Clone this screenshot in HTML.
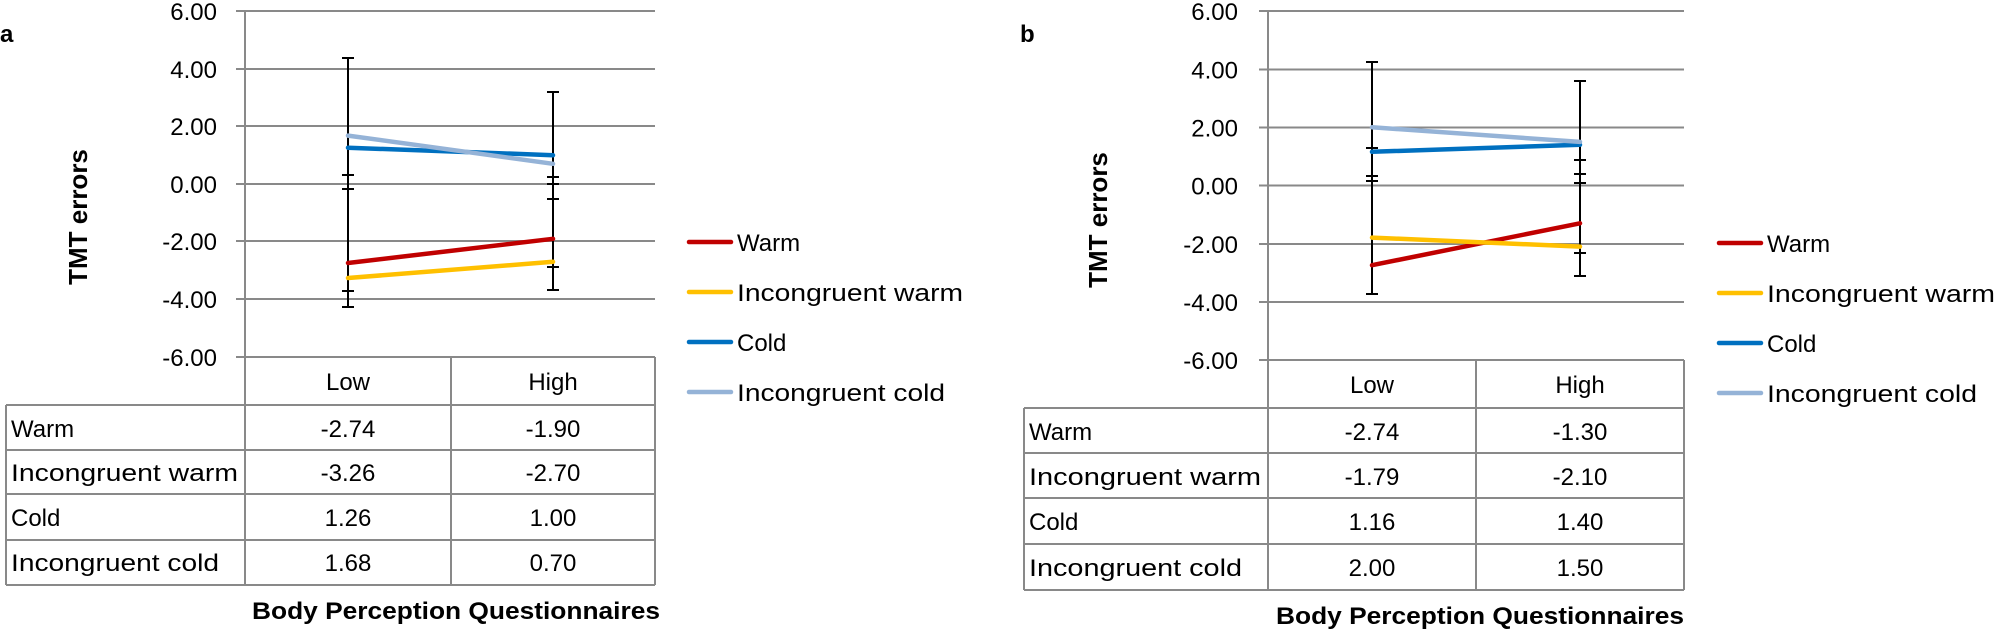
<!DOCTYPE html>
<html><head><meta charset="utf-8"><style>
html,body{margin:0;padding:0;background:#fff;}
svg{display:block;}
text{font-family:"Liberation Sans",sans-serif;fill:#000;}
</style></head><body>
<svg width="1998" height="629" viewBox="0 0 1998 629" xmlns="http://www.w3.org/2000/svg">
<!-- ===== Panel a ===== -->
<text x="0" y="42" font-size="24" font-weight="bold">a</text>
<text transform="translate(87,217) rotate(-90)" font-size="26" font-weight="bold" text-anchor="middle">TMT errors</text>
<g stroke="#898989" stroke-width="2">
<line x1="236" y1="11" x2="655" y2="11"/>
<line x1="236" y1="69" x2="655" y2="69"/>
<line x1="236" y1="126" x2="655" y2="126"/>
<line x1="236" y1="184" x2="655" y2="184"/>
<line x1="236" y1="241" x2="655" y2="241"/>
<line x1="236" y1="299" x2="655" y2="299"/>
<line x1="236" y1="357" x2="655" y2="357"/>
<line x1="245" y1="11" x2="245" y2="585"/>
<line x1="451" y1="357" x2="451" y2="585"/>
<line x1="655" y1="357" x2="655" y2="585"/>
<line x1="6" y1="405" x2="655" y2="405"/>
<line x1="6" y1="450" x2="655" y2="450"/>
<line x1="6" y1="494" x2="655" y2="494"/>
<line x1="6" y1="540" x2="655" y2="540"/>
<line x1="6" y1="585" x2="655" y2="585"/>
<line x1="6" y1="405" x2="6" y2="585"/>
</g>
<g font-size="24" text-anchor="end">
<text x="217" y="20">6.00</text>
<text x="217" y="78">4.00</text>
<text x="217" y="135">2.00</text>
<text x="217" y="193">0.00</text>
<text x="217" y="250">-2.00</text>
<text x="217" y="308">-4.00</text>
<text x="217" y="366">-6.00</text>
</g>
<g stroke="#000" stroke-width="2">
<line x1="348" y1="58" x2="348" y2="307"/>
<line x1="342" y1="58" x2="354" y2="58"/>
<line x1="342" y1="175" x2="354" y2="175"/>
<line x1="342" y1="189" x2="354" y2="189"/>
<line x1="342" y1="291" x2="354" y2="291"/>
<line x1="342" y1="307" x2="354" y2="307"/>
<line x1="553" y1="92" x2="553" y2="290"/>
<line x1="547" y1="92" x2="559" y2="92"/>
<line x1="547" y1="177" x2="559" y2="177"/>
<line x1="547" y1="184" x2="559" y2="184"/>
<line x1="547" y1="199" x2="559" y2="199"/>
<line x1="547" y1="267" x2="559" y2="267"/>
<line x1="547" y1="290" x2="559" y2="290"/>
</g>
<g stroke-width="4.5" stroke-linecap="round">
<line x1="348" y1="263" x2="553" y2="238.8" stroke="#C00000"/>
<line x1="348" y1="278" x2="553" y2="261.8" stroke="#FFC000"/>
<line x1="348" y1="147.7" x2="553" y2="155.2" stroke="#0070C0"/>
<line x1="348" y1="135.6" x2="553" y2="163.8" stroke="#95B3D7"/>
</g>
<g font-size="24" text-anchor="middle">
<text x="348" y="390">Low</text>
<text x="553" y="390">High</text>
<text x="348" y="437">-2.74</text>
<text x="553" y="437">-1.90</text>
<text x="348" y="481">-3.26</text>
<text x="553" y="481">-2.70</text>
<text x="348" y="526">1.26</text>
<text x="553" y="526">1.00</text>
<text x="348" y="571">1.68</text>
<text x="553" y="571">0.70</text>
</g>
<g font-size="24">
<text x="11" y="437">Warm</text>
<text x="11" y="481" textLength="227" lengthAdjust="spacingAndGlyphs">Incongruent warm</text>
<text x="11" y="526">Cold</text>
<text x="11" y="571" textLength="208" lengthAdjust="spacingAndGlyphs">Incongruent cold</text>
</g>
<text x="252" y="619" font-size="24" font-weight="bold" textLength="408" lengthAdjust="spacingAndGlyphs">Body Perception Questionnaires</text>
<g stroke-width="4.5" stroke-linecap="round">
<line x1="689" y1="242" x2="731" y2="242" stroke="#C00000"/>
<line x1="689" y1="292" x2="731" y2="292" stroke="#FFC000"/>
<line x1="689" y1="342" x2="731" y2="342" stroke="#0070C0"/>
<line x1="689" y1="392" x2="731" y2="392" stroke="#95B3D7"/>
</g>
<g font-size="24">
<text x="737" y="251">Warm</text>
<text x="737" y="301" textLength="226" lengthAdjust="spacingAndGlyphs">Incongruent warm</text>
<text x="737" y="351">Cold</text>
<text x="737" y="401" textLength="208" lengthAdjust="spacingAndGlyphs">Incongruent cold</text>
</g>

<!-- ===== Panel b ===== -->
<text x="1020" y="42" font-size="24" font-weight="bold">b</text>
<text transform="translate(1107,220) rotate(-90)" font-size="26" font-weight="bold" text-anchor="middle">TMT errors</text>
<g stroke="#898989" stroke-width="2">
<line x1="1259" y1="11" x2="1684" y2="11"/>
<line x1="1259" y1="69.5" x2="1684" y2="69.5"/>
<line x1="1259" y1="127.5" x2="1684" y2="127.5"/>
<line x1="1259" y1="185.5" x2="1684" y2="185.5"/>
<line x1="1259" y1="244" x2="1684" y2="244"/>
<line x1="1259" y1="302" x2="1684" y2="302"/>
<line x1="1259" y1="360" x2="1684" y2="360"/>
<line x1="1268" y1="11" x2="1268" y2="590"/>
<line x1="1476" y1="360" x2="1476" y2="590"/>
<line x1="1684" y1="360" x2="1684" y2="590"/>
<line x1="1024" y1="408" x2="1684" y2="408"/>
<line x1="1024" y1="453" x2="1684" y2="453"/>
<line x1="1024" y1="498" x2="1684" y2="498"/>
<line x1="1024" y1="544" x2="1684" y2="544"/>
<line x1="1024" y1="590" x2="1684" y2="590"/>
<line x1="1024" y1="408" x2="1024" y2="590"/>
</g>
<g font-size="24" text-anchor="end">
<text x="1238" y="20">6.00</text>
<text x="1238" y="78.5">4.00</text>
<text x="1238" y="136.5">2.00</text>
<text x="1238" y="194.5">0.00</text>
<text x="1238" y="253">-2.00</text>
<text x="1238" y="311">-4.00</text>
<text x="1238" y="369">-6.00</text>
</g>
<g stroke="#000" stroke-width="2">
<line x1="1372" y1="62" x2="1372" y2="294"/>
<line x1="1366" y1="62" x2="1378" y2="62"/>
<line x1="1366" y1="148" x2="1378" y2="148"/>
<line x1="1366" y1="176" x2="1378" y2="176"/>
<line x1="1366" y1="181" x2="1378" y2="181"/>
<line x1="1366" y1="294" x2="1378" y2="294"/>
<line x1="1580" y1="81" x2="1580" y2="276"/>
<line x1="1574" y1="81" x2="1586" y2="81"/>
<line x1="1574" y1="160" x2="1586" y2="160"/>
<line x1="1574" y1="174" x2="1586" y2="174"/>
<line x1="1574" y1="183" x2="1586" y2="183"/>
<line x1="1574" y1="253" x2="1586" y2="253"/>
<line x1="1574" y1="276" x2="1586" y2="276"/>
</g>
<g stroke-width="4.5" stroke-linecap="round">
<line x1="1372" y1="265.2" x2="1580" y2="223.3" stroke="#C00000"/>
<line x1="1372" y1="237.6" x2="1580" y2="246.6" stroke="#FFC000"/>
<line x1="1372" y1="151.8" x2="1580" y2="144.8" stroke="#0070C0"/>
<line x1="1372" y1="127.3" x2="1580" y2="141.9" stroke="#95B3D7"/>
</g>
<g font-size="24" text-anchor="middle">
<text x="1372" y="393">Low</text>
<text x="1580" y="393">High</text>
<text x="1372" y="440">-2.74</text>
<text x="1580" y="440">-1.30</text>
<text x="1372" y="485">-1.79</text>
<text x="1580" y="485">-2.10</text>
<text x="1372" y="530">1.16</text>
<text x="1580" y="530">1.40</text>
<text x="1372" y="576">2.00</text>
<text x="1580" y="576">1.50</text>
</g>
<g font-size="24">
<text x="1029" y="440">Warm</text>
<text x="1029" y="485" textLength="232" lengthAdjust="spacingAndGlyphs">Incongruent warm</text>
<text x="1029" y="530">Cold</text>
<text x="1029" y="576" textLength="213" lengthAdjust="spacingAndGlyphs">Incongruent cold</text>
</g>
<text x="1276" y="624" font-size="24" font-weight="bold" textLength="408" lengthAdjust="spacingAndGlyphs">Body Perception Questionnaires</text>
<g stroke-width="4.5" stroke-linecap="round">
<line x1="1719" y1="243" x2="1761" y2="243" stroke="#C00000"/>
<line x1="1719" y1="293" x2="1761" y2="293" stroke="#FFC000"/>
<line x1="1719" y1="343" x2="1761" y2="343" stroke="#0070C0"/>
<line x1="1719" y1="393" x2="1761" y2="393" stroke="#95B3D7"/>
</g>
<g font-size="24">
<text x="1767" y="252">Warm</text>
<text x="1767" y="302" textLength="228" lengthAdjust="spacingAndGlyphs">Incongruent warm</text>
<text x="1767" y="352">Cold</text>
<text x="1767" y="402" textLength="210" lengthAdjust="spacingAndGlyphs">Incongruent cold</text>
</g>
</svg>
</body></html>
